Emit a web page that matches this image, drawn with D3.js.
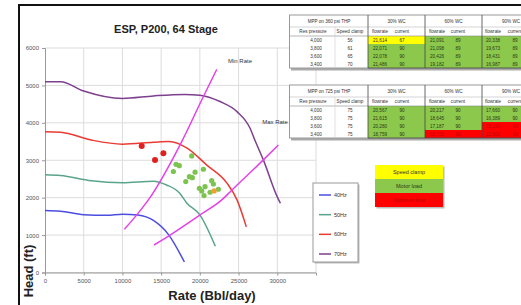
<!DOCTYPE html>
<html>
<head>
<meta charset="utf-8">
<script src="https://cdn.jsdelivr.net/npm/d3@7"></script>
<style>
  body { margin: 0; background: #fff; }
  svg { display: block; font-family: "Liberation Sans", Arial, sans-serif; }
</style>
</head>
<body>
<svg id="chart" width="521" height="305"></svg>
<script>
// pump curves, one per frequency
const rate40 = [0, 2000, 5000, 8000, 10000, 12000, 14000, 16000, 18000];
const head40 = [1660, 1640, 1545, 1530, 1560, 1535, 1390, 1000, 280];
const rate50 = [0, 2000, 6000, 10000, 14000, 15700, 17400, 18300, 20000, 22000];
const head50 = [2610, 2590, 2450, 2400, 2440, 2340, 2120, 1860, 1540, 700];
const rate60 = [0, 2000, 6000, 10000, 14000, 16000, 18300, 20900, 23500, 24800, 26000];
const head60 = [3760, 3750, 3540, 3430, 3480, 3500, 3330, 2870, 2390, 1940, 1220];
const rate70 = [0, 2000, 5000, 10000, 14000, 18000, 20000, 22600, 24800, 26500, 27100, 28200, 30000, 30400];
const head70 = [5100, 5100, 4850, 4650, 4720, 4760, 4740, 4570, 4300, 3850, 3540, 3010, 2020, 1850];
const seriesNames = ["40Hz", "50Hz", "60Hz", "70Hz"];
const seriesColors = ["#4b4ee0", "#5aa58a", "#ea3b33", "#7d3f8e"];

// operating envelope
const minRateQ = [10250, 11850, 13350, 17660, 20240, 22180];
const minRateH = [1155, 1540, 1940, 3500, 4610, 5430];
const maxRateQ = [14080, 16150, 20030, 22830, 24120, 28200, 30140];
const maxRateH = [735, 1000, 1540, 1940, 2200, 3010, 3410];

// well test points
const redQ = [12490, 14210, 15290];
const redH = [3380, 3010, 3190];
const greenQ = [18950, 16920, 17350, 16580, 19380, 20460, 18650, 19030, 18180, 21530, 21750, 19940, 20670, 20240, 21320, 22390, 20540];
const greenH = [3115, 2890, 2855, 2700, 2680, 2760, 2560, 2535, 2430, 2455, 2365, 2250, 2295, 2180, 2145, 2225, 2055];
const orangeQ = [21840];
const orangeH = [2180];

const xTicks = [0, 5000, 10000, 15000, 20000, 25000, 30000];
const yTicks = [0, 1000, 2000, 3000, 4000, 5000, 6000];

// tables
const resPressure = ["4,000", "3,800", "3,600", "3,400"];
const clamp360 = ["56", "61", "65", "70"];
const flow360 = [["21,614", "21,091", "20,338"], ["22,071", "21,098", "19,673"], ["22,078", "20,426", "18,431"], ["21,486", "19,182", "16,987"]];
const curr360 = [["67", "89", "89"], ["90", "89", "89"], ["90", "89", "89"], ["90", "89", "89"]];
const state360 = [["y", "g", "g"], ["g", "g", "g"], ["g", "g", "g"], ["g", "g", "g"]];
const clamp725 = ["75", "75", "75", "75"];
const flow725 = [["20,567", "20,217", "17,660"], ["21,615", "18,645", "16,389"], ["20,280", "17,187", "15,194"], ["18,759", "15,731", "13,902"]];
const curr725 = [["90", "90", "90"], ["90", "90", "90"], ["90", "90", "90"], ["90", "90", "90"]];
const state725 = [["g", "g", "g"], ["g", "g", "g"], ["g", "g", "r"], ["g", "r", "r"]];
const wcGroups = ["30% WC", "60% WC", "90% WC"];
const keyLabels = ["Speed clamp", "Motor load", "Upthrust limit"];
const keyStates = ["y", "g", "r"];

const fills = { y: "#ffff00", g: "#8cc84b", r: "#ff0000" };
const inks = { y: "#333", g: "#2a3a1a", r: "#c00000" };

const svg = d3.select("#chart");

// outer chart frame
svg.append("rect").attr("x", 19).attr("y", 5).attr("width", 540).attr("height", 320)
  .attr("fill", "none").attr("stroke", "#111").attr("stroke-width", 2);

const x = d3.scaleLinear().domain([0, 35000]).range([45, 316]);
const y = d3.scaleLinear().domain([0, 6000]).range([272.5, 48]);

// grid
svg.append("g").selectAll("line").data(y.ticks(6)).join("line")
  .attr("x1", x(0)).attr("x2", x(35000)).attr("y1", d => y(d)).attr("y2", d => y(d))
  .attr("stroke", "#dcdcdc").attr("stroke-width", 1);
svg.append("g").selectAll("line").data(d3.range(5000, 35001, 5000)).join("line")
  .attr("x1", d => x(d)).attr("x2", d => x(d)).attr("y1", y(0)).attr("y2", y(6000))
  .attr("stroke", "#dcdcdc").attr("stroke-width", 1);

const xAxis = svg.append("g").attr("transform", `translate(0,${y(0)})`)
  .call(d3.axisBottom(x).tickValues(xTicks).tickFormat(d3.format("d")).tickSize(3).tickPadding(3));
const yAxis = svg.append("g").attr("transform", `translate(${x(0)},0)`)
  .call(d3.axisLeft(y).tickValues(yTicks).tickFormat(d3.format("d")).tickSize(3).tickPadding(3));
[xAxis, yAxis].forEach(a => {
  a.select(".domain").attr("stroke", "#999");
  a.selectAll(".tick line").attr("stroke", "#999");
  a.selectAll("text").attr("font-size", 6).attr("fill", "#555").attr("font-family", "Liberation Sans, Arial");
});

svg.append("text").attr("x", 166).attr("y", 33).attr("text-anchor", "middle")
  .attr("font-size", 11).attr("font-weight", "bold").attr("fill", "#222").text("ESP, P200, 64 Stage");
svg.append("text").attr("x", 212).attr("y", 300).attr("text-anchor", "middle")
  .attr("font-size", 13).attr("font-weight", "bold").attr("fill", "#222").text("Rate (Bbl/day)");
svg.append("text").attr("transform", "translate(33,271) rotate(-90)").attr("text-anchor", "middle")
  .attr("font-size", 13).attr("font-weight", "bold").attr("fill", "#222").text("Head (ft)");

const line = d3.line().x(d => x(d[0])).y(d => y(d[1])).curve(d3.curveMonotoneX);
const curves = [[rate40, head40], [rate50, head50], [rate60, head60], [rate70, head70]];
curves.forEach(([q, h], i) => {
  svg.append("path").datum(d3.zip(q, h)).attr("d", line)
    .attr("fill", "none").attr("stroke", seriesColors[i]).attr("stroke-width", 1.5);
});

[[minRateQ, minRateH], [maxRateQ, maxRateH]].forEach(([q, h]) => {
  svg.append("path").datum(d3.zip(q, h)).attr("d", line)
    .attr("fill", "none").attr("stroke", "#e442e8").attr("stroke-width", 1.5);
});

svg.append("text").attr("x", 240).attr("y", 63).attr("text-anchor", "middle")
  .attr("font-size", 6).attr("fill", "#333").text("Min Rate");
svg.append("text").attr("x", 275).attr("y", 124).attr("text-anchor", "middle")
  .attr("font-size", 6).attr("fill", "#333").text("Max Rate");

function dots(q, h, color, r) {
  svg.append("g").selectAll("circle").data(d3.zip(q, h)).join("circle")
    .attr("cx", d => x(d[0])).attr("cy", d => y(d[1])).attr("r", r).attr("fill", color);
}
dots(redQ, redH, "#e01f1f", 3);
dots(greenQ, greenH, "#7cc44f", 2.6);
dots(orangeQ, orangeH, "#f0a030", 2.6);

// series legend
const lg = svg.append("g");
lg.append("rect").attr("x", 314.5).attr("y", 184.5).attr("width", 45).attr("height", 79).attr("fill", "#bbb");
lg.append("rect").attr("x", 313).attr("y", 183).attr("width", 45).attr("height", 79)
  .attr("fill", "#fff").attr("stroke", "#999");
const lgY = d3.scalePoint().domain(seriesNames).range([195, 254]);
seriesNames.forEach((n, i) => {
  lg.append("line").attr("x1", 319).attr("x2", 331).attr("y1", lgY(n)).attr("y2", lgY(n))
    .attr("stroke", seriesColors[i]).attr("stroke-width", 1.5);
  lg.append("text").attr("x", 334).attr("y", lgY(n) + 2).attr("font-size", 5.5).attr("fill", "#333").text(n);
});

// operating tables
const colEdges = [290, 335, 368, 391, 425, 448, 482, 505, 540];
const textX = [313, 350, 380, 402, 437, 458, 493, 515];

function drawTable(top, title, clamp, flow, curr, state) {
  const g = svg.append("g");
  const h1 = 12, h2 = 9, rh = 8;
  const bodyTop = top + h1 + h2;
  const bottom = bodyTop + 4 * rh;
  g.append("rect").attr("x", 291).attr("y", top + 1.5).attr("width", 240).attr("height", bottom - top + 1)
    .attr("fill", "#aaa");
  g.append("rect").attr("x", 289.5).attr("y", top).attr("width", 240).attr("height", bottom - top)
    .attr("fill", "#fff").attr("stroke", "#999");
  // coloured cells
  state.forEach((row, r) => row.forEach((s, k) => {
    g.append("rect").attr("x", colEdges[2 + 2 * k]).attr("y", bodyTop + r * rh)
      .attr("width", colEdges[4 + 2 * k] - colEdges[2 + 2 * k]).attr("height", rh).attr("fill", fills[s]);
  }));
  // light cell lines
  g.append("line").attr("x1", 290).attr("x2", 540).attr("y1", top + h1).attr("y2", top + h1).attr("stroke", "#bbb").attr("stroke-width", 0.6);
  g.append("line").attr("x1", 290).attr("x2", 540).attr("y1", bodyTop).attr("y2", bodyTop).attr("stroke", "#888").attr("stroke-width", 0.6);
  g.append("line").attr("x1", 335).attr("x2", 335).attr("y1", top + h1).attr("y2", bottom).attr("stroke", "#ccc").attr("stroke-width", 0.6);
  // dark group dividers
  [368, 425, 482].forEach(xx => {
    g.append("line").attr("x1", xx).attr("x2", xx).attr("y1", top).attr("y2", bottom).attr("stroke", "#444").attr("stroke-width", 0.8);
  });
  g.append("line").attr("x1", 368).attr("x2", 540).attr("y1", bottom).attr("y2", bottom).attr("stroke", "#444").attr("stroke-width", 0.8);

  const txt = (xx, yy, t, fill) => g.append("text").attr("x", xx).attr("y", yy).attr("text-anchor", "middle")
    .attr("font-size", 4.6).attr("fill", fill || "#333").text(t);
  txt(329, top + 8, title);
  wcGroups.forEach((w, k) => txt((colEdges[2 + 2 * k] + colEdges[4 + 2 * k]) / 2, top + 8, w));
  ["Res pressure", "Speed clamp", "flowrate", "current", "flowrate", "current", "flowrate", "current"]
    .forEach((t, i) => txt(textX[i], top + h1 + 6.3, t));
  resPressure.forEach((p, r) => {
    const yy = bodyTop + r * rh + 5.6;
    txt(textX[0] + 3, yy, p);
    txt(textX[1], yy, clamp[r]);
    for (let k = 0; k < 3; k++) {
      txt(textX[2 + 2 * k], yy, flow[r][k], inks[state[r][k]]);
      txt(textX[3 + 2 * k], yy, curr[r][k], inks[state[r][k]]);
    }
  });
}
drawTable(15, "MPP on 360 psi THP", clamp360, flow360, curr360, state360);
drawTable(85, "MPP on 725 psi THP", clamp725, flow725, curr725, state725);

// colour key
const key = svg.append("g");
key.append("rect").attr("x", 376.5).attr("y", 166.5).attr("width", 68).attr("height", 42).attr("fill", "#bbb");
keyLabels.forEach((t, i) => {
  key.append("rect").attr("x", 375).attr("y", 165 + i * 14).attr("width", 68).attr("height", 14).attr("fill", fills[keyStates[i]]);
  key.append("text").attr("x", 409).attr("y", 174 + i * 14).attr("text-anchor", "middle")
    .attr("font-size", 5.5).attr("fill", inks[keyStates[i]]).text(t);
});
</script>
</body>
</html>
